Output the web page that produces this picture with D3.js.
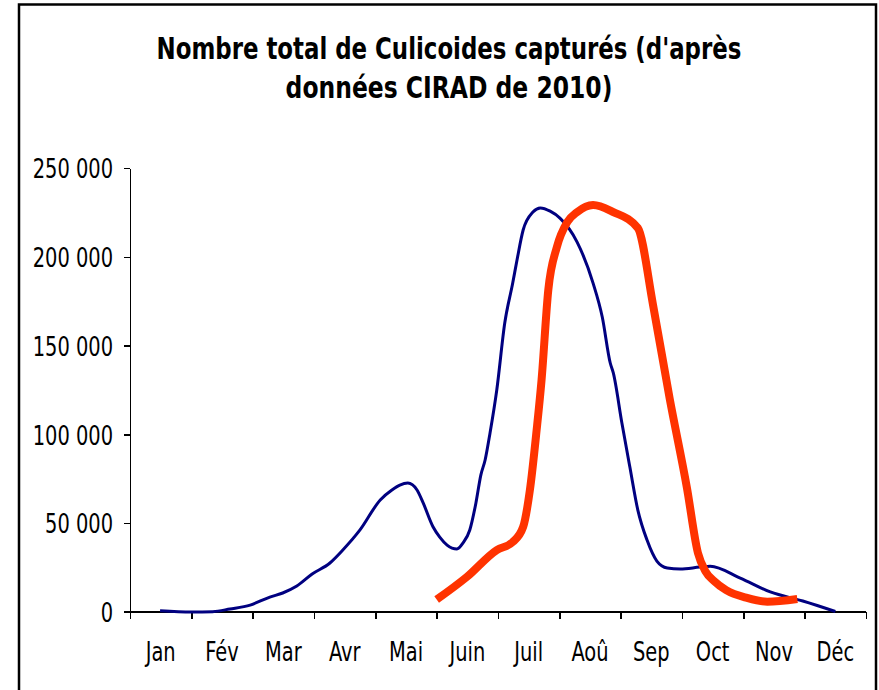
<!DOCTYPE html>
<html lang="fr">
<head>
<meta charset="UTF-8">
<title>Nombre total de Culicoides capturés</title>
<style>
  body { margin: 0; background: #fff; }
  svg { display: block; }
  .lbl { font-family: "DejaVu Sans Condensed", "DejaVu Sans", sans-serif; fill: #000; }
  .title { font-family: "DejaVu Sans Condensed", "DejaVu Sans", sans-serif; font-weight: bold; fill: #000; }
  .axis path, .axis line { stroke: #000; stroke-width: 1.5px; shape-rendering: crispEdges; }
</style>
</head>
<body>
<script src="https://cdn.jsdelivr.net/npm/d3@7"></script>
<script>
// month labels and y ticks
const months = ["Jan", "Fév", "Mar", "Avr", "Mai", "Juin", "Juil", "Aoû", "Sep", "Oct", "Nov", "Déc"];
const yTicks = [0, 50000, 100000, 150000, 200000, 250000];

// blue series: position in months (0 = start of Jan), captures
const blueMonth = [0.49, 1.0, 1.35, 1.63, 1.96, 2.28, 2.49, 2.72, 2.97, 3.26, 3.47, 3.75, 4.08, 4.27, 4.40, 4.53,
  4.68, 4.78, 4.94, 5.05, 5.17, 5.25, 5.33, 5.43, 5.54, 5.64, 5.72, 5.79, 5.87, 5.98, 6.11, 6.24, 6.31, 6.41,
  6.57, 6.69, 6.85, 7.01, 7.29, 7.55, 7.70, 7.83, 7.88, 8.02, 8.15, 8.28, 8.43, 8.59, 8.76, 8.97, 9.29, 9.46,
  9.95, 10.44, 10.97, 11.5];
const blueVal = [700, 0, 200, 1700, 3900, 8400, 10700, 14600, 21400, 27600, 34900, 46200, 63100, 68700, 71500, 72600,
  68700, 61400, 48000, 42200, 37700, 36000, 35500, 38900, 46200, 61400, 77100, 85600, 100800, 125000, 162700, 185200, 198200, 215100,
  225200, 227500, 225700, 221800, 208300, 185200, 166100, 140200, 134600, 106400, 81600, 57400, 40500, 28700, 24800, 24200, 25300, 25800,
  19100, 11300, 6200, 300];

// red series
const redMonth = [5.0, 5.49, 5.98, 6.24, 6.41, 6.52, 6.63, 6.71, 6.82, 6.96, 7.13, 7.29, 7.55, 7.88, 8.28,
  8.53, 8.80, 9.08, 9.26, 9.38, 9.52, 9.72, 10.06, 10.39, 10.88];
const redVal = [7000, 19700, 34900, 39400, 47900, 68700, 102500, 130600, 181300, 205500, 219600, 225200, 229200, 225200, 216200,
  172500, 120000, 70000, 33200, 23000, 17500, 12300, 7900, 5800, 7300];

const W = 879, H = 690;
const svg = d3.select("body").append("svg").attr("width", W).attr("height", H);

// frame
svg.append("rect")
  .attr("x", 19).attr("y", 4.5).attr("width", 857).attr("height", 700)
  .attr("fill", "#fff").attr("stroke", "#000").attr("stroke-width", 2.5);

const x = d3.scaleLinear().domain([0, 12]).range([130, 866]);
const y = d3.scaleLinear().domain([0, 250000]).range([612, 168]);
const band = d3.scaleBand().domain(months).range([130, 866]);

const fr = d3.formatLocale({ decimal: ",", thousands: " ", grouping: [3], currency: ["", "€"] });
const fmt = fr.format(",");

// y axis
const yAxis = svg.append("g").attr("class", "axis")
  .attr("transform", "translate(130,0)")
  .call(d3.axisLeft(y).tickValues(yTicks).tickSize(6).tickSizeOuter(0).tickFormat(fmt));
yAxis.selectAll("text").attr("class", "lbl").attr("font-size", 27).attr("x", -17).attr("dy", "0.36em")
  .attr("font-family", null);

// x axis: boundary ticks
const xAxis = svg.append("g").attr("class", "axis")
  .attr("transform", "translate(0,612)")
  .call(d3.axisBottom(x).tickValues(d3.range(13)).tickSize(7).tickSizeOuter(0).tickFormat(""));
xAxis.select(".domain").attr("d", "M124,0H866");

// month labels
svg.append("g").selectAll("text")
  .data(months).join("text")
  .attr("class", "lbl")
  .attr("x", d => band(d) + band.bandwidth() / 2)
  .attr("y", 661)
  .attr("text-anchor", "middle")
  .attr("font-size", 27)
  .text(d => d);

// condense labels like the original
svg.selectAll("text.lbl").each(function () {
  const len = this.getComputedTextLength();
  d3.select(this).attr("textLength", len * 0.8).attr("lengthAdjust", "spacingAndGlyphs");
});

// title: squeeze each line horizontally to the reference width
const title = ["Nombre total de Culicoides capturés (d'après", "données CIRAD de 2010)"];
const titleW = [585, 327];
svg.append("g").selectAll("g")
  .data(title).join("g")
  .attr("transform", (d, i) => `translate(449,${59 + i * 39})`)
  .append("text")
  .attr("class", "title")
  .attr("text-anchor", "middle")
  .attr("font-size", 31)
  .text(d => d)
  .each(function (d, i) {
    const len = this.getComputedTextLength();
    d3.select(this).attr("transform", `scale(${titleW[i] / len},1)`);
  });

// lines
const line = d3.line().x(d => x(d[0])).y(d => y(d[1])).curve(d3.curveMonotoneX);

svg.append("path")
  .datum(d3.zip(blueMonth, blueVal))
  .attr("fill", "none")
  .attr("stroke", "#000080")
  .attr("stroke-width", 3)
  .attr("stroke-linejoin", "round")
  .attr("d", line);

svg.append("path")
  .datum(d3.zip(redMonth, redVal))
  .attr("fill", "none")
  .attr("stroke", "#ff3300")
  .attr("stroke-width", 8)
  .attr("stroke-linejoin", "round")
  .attr("d", line);
</script>
</body>
</html>
